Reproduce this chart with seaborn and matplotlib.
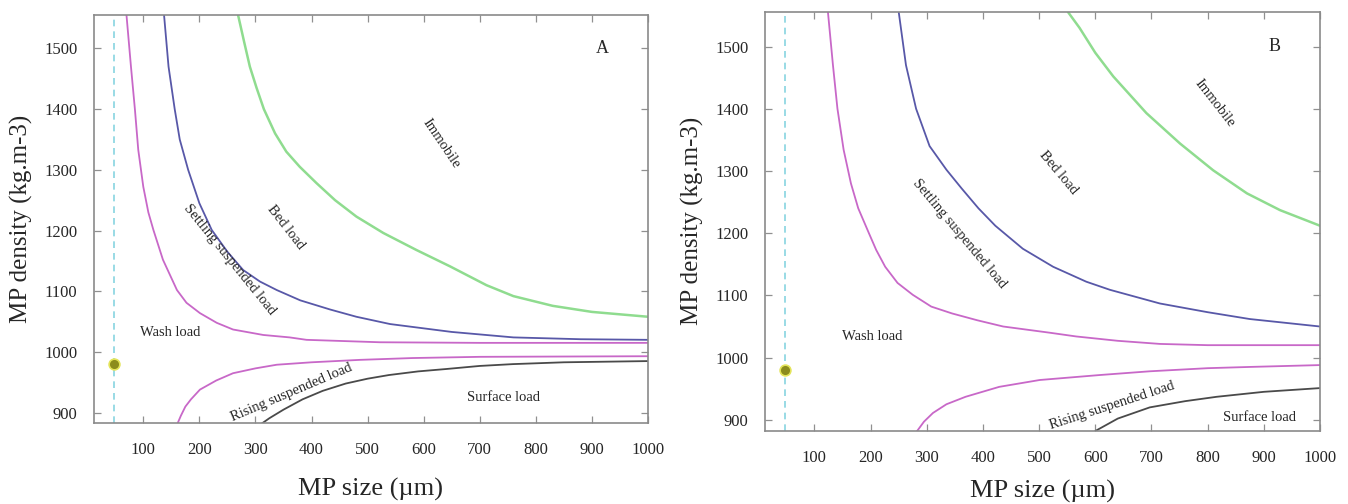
import numpy as np
import pandas as pd
import matplotlib
matplotlib.use("Agg")
import matplotlib.pyplot as plt
import seaborn as sns

# ---------------- data ----------------
# Panel A
a_settle_x = [70, 78, 85, 91, 100, 109, 118, 135, 160, 177, 201, 231, 260, 314, 361, 391, 522, 700, 1000]
a_settle_y = [1555, 1470, 1400, 1333, 1272, 1230, 1201, 1152, 1102, 1081, 1064, 1048, 1037, 1028, 1024, 1020, 1016, 1015, 1015]
a_bed_x = [137, 145, 156, 165, 180, 200, 222, 250, 278, 308, 338, 380, 433, 480, 540, 650, 760, 880, 1000]
a_bed_y = [1555, 1470, 1400, 1350, 1300, 1245, 1201, 1165, 1135, 1116, 1102, 1085, 1070, 1058, 1046, 1033, 1024, 1021, 1020]
a_immob_x = [269, 280, 290, 302, 315, 335, 355, 379, 409, 442, 480, 528, 587, 647, 712, 760, 830, 900, 1000]
a_immob_y = [1555, 1510, 1470, 1435, 1400, 1360, 1330, 1305, 1278, 1250, 1223, 1196, 1168, 1141, 1110, 1092, 1076, 1066, 1058]
a_rise_x = [160, 167, 175, 185, 201, 230, 260, 300, 338, 400, 486, 580, 700, 1000]
a_rise_y = [880, 895, 910, 922, 938, 953, 965, 973, 979, 983, 987, 990, 992, 993]
a_surf_x = [308, 325, 350, 384, 420, 461, 500, 538, 590, 641, 700, 759, 850, 1000]
a_surf_y = [880, 891, 905, 922, 936, 948, 956, 962, 968, 972, 977, 980, 983, 985]

# Panel B
b_settle_x = [124, 133, 141, 152, 165, 178, 197, 210, 226, 248, 275, 308, 345, 390, 436, 519, 566, 640, 715, 800, 1000]
b_settle_y = [1556, 1470, 1400, 1334, 1280, 1240, 1200, 1173, 1146, 1120, 1101, 1082, 1071, 1060, 1050, 1040, 1034, 1027, 1022, 1020, 1020]
b_bed_x = [250, 263, 281, 305, 335, 362, 392, 422, 471, 525, 584, 626, 715, 800, 875, 1000]
b_bed_y = [1556, 1470, 1400, 1340, 1302, 1272, 1240, 1212, 1175, 1146, 1122, 1109, 1087, 1073, 1062, 1050]
b_immob_x = [551, 572, 600, 632, 691, 751, 810, 870, 929, 1000]
b_immob_y = [1556, 1530, 1490, 1452, 1393, 1344, 1301, 1264, 1237, 1212]
b_rise_x = [282, 295, 311, 335, 369, 429, 501, 608, 697, 800, 875, 1000]
b_rise_y = [881, 897, 911, 925, 937, 953, 964, 972, 978, 983, 985, 988]
b_surf_x = [600, 640, 697, 760, 816, 900, 1000]
b_surf_y = [882, 902, 920, 930, 937, 945, 951]

# reference size / density point
site_x = [48]
site_y = [980]

x_ticks = [100, 200, 300, 400, 500, 600, 700, 800, 900, 1000]
y_ticks = [900, 1000, 1100, 1200, 1300, 1400, 1500]

x_label = "MP size (µm)"
y_label = "MP density (kg.m-3)"

# ---------------- style ----------------
sns.set_style("ticks")
plt.rcParams["font.family"] = ["Liberation Serif", "DejaVu Serif"]
plt.rcParams["lines.solid_joinstyle"] = "round"

C_MAG = "#c868c8"
C_BLUE = "#5858a8"
C_GREEN = "#8fdc8f"
C_BLACK = "#4a4a4a"
C_CYAN = "#88d4e0"

fig = plt.figure(figsize=(13.48, 5.04), dpi=100)
axA = fig.add_axes([0.0697, 0.1607, 0.411, 0.8095])
axB = fig.add_axes([0.5675, 0.1448, 0.4117, 0.832])


def draw_curve(ax, xs, ys, color, lw):
    df = pd.DataFrame({"x": xs, "y": ys})
    sns.lineplot(data=df, x="x", y="y", ax=ax, color=color, lw=lw,
                 sort=False, estimator=None)


def panel(ax, curves, ylim, letter, texts, xlabelpad):
    for xs, ys, col, lw in curves:
        draw_curve(ax, xs, ys, col, lw)
    ax.axvline(site_x[0], color=C_CYAN, lw=1.2, ls=(0, (4, 3)))
    sns.scatterplot(x=site_x, y=site_y, ax=ax, s=60, color="#8c8c1c",
                    edgecolor="#e4e45a", linewidth=1.2, zorder=5)
    ax.set_xlim(12, 1000)
    ax.set_ylim(*ylim)
    ax.set_xticks(x_ticks)
    ax.set_yticks(y_ticks)
    ax.tick_params(direction="in", length=5, width=0.9, color="#909090",
                   top=True, right=True, labelsize=12, pad=12)
    ax.tick_params(axis="x", pad=14)
    for s in ax.spines.values():
        s.set_visible(True)
        s.set_color("#8a8a8a")
        s.set_linewidth(1.2)
    ax.set_xlabel(x_label, fontsize=19, labelpad=xlabelpad)
    ax.set_ylabel(y_label, fontsize=18, labelpad=8)
    ax.text(0.918, 0.918, letter, transform=ax.transAxes, fontsize=13,
            ha="center", va="center")
    for (tx, ty, s, rot) in texts:
        ax.text(tx, ty, s, fontsize=10.5, rotation=rot, ha="center",
                va="center", rotation_mode="anchor")


panel(axA,
      [(a_settle_x, a_settle_y, C_MAG, 1.3),
       (a_bed_x, a_bed_y, C_BLUE, 1.3),
       (a_immob_x, a_immob_y, C_GREEN, 1.8),
       (a_rise_x, a_rise_y, C_MAG, 1.3),
       (a_surf_x, a_surf_y, C_BLACK, 1.3)],
      (883, 1555), "A",
      [(632, 1344, "Immobile", -56),
       (354, 1205, "Bed load", -52),
       (253, 1152, "Settling suspended load", -51),
       (148, 1032, "Wash load", 0),
       (365, 934, "Rising suspended load", 23),
       (742, 925, "Surface load", 0)], 14)

panel(axB,
      [(b_settle_x, b_settle_y, C_MAG, 1.3),
       (b_bed_x, b_bed_y, C_BLUE, 1.3),
       (b_immob_x, b_immob_y, C_GREEN, 1.8),
       (b_rise_x, b_rise_y, C_MAG, 1.3),
       (b_surf_x, b_surf_y, C_BLACK, 1.3)],
      (882, 1556), "B",
      [(813, 1409, "Immobile", -52),
       (534, 1297, "Bed load", -50),
       (358, 1199, "Settling suspended load", -50),
       (203, 1034, "Wash load", 0),
       (630, 923, "Rising suspended load", 18),
       (893, 904, "Surface load", 0)], 10)

fig.savefig("out.png", dpi=100)
